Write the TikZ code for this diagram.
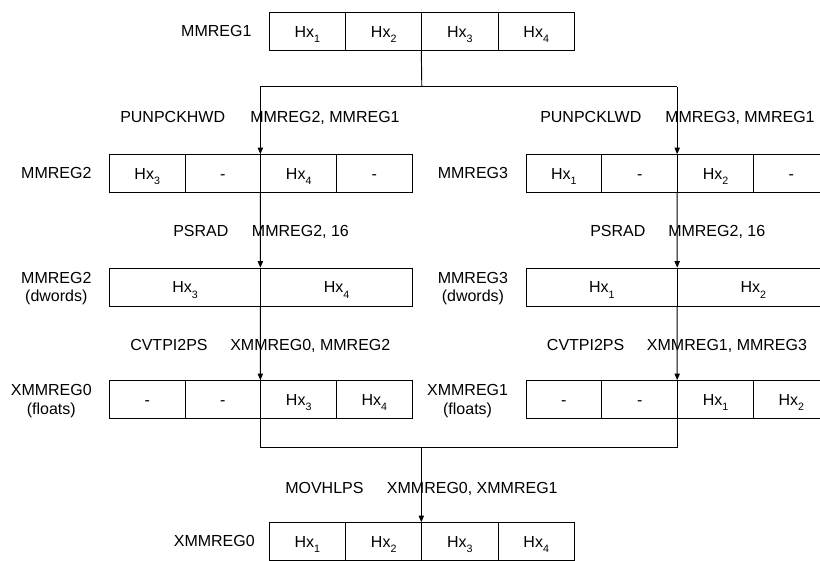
\documentclass[tikz,border=0pt]{standalone}
\usepackage{fontspec}
\setmainfont{Liberation Sans}
\usetikzlibrary{arrows.meta}
\newcommand{\hxs}[1]{Hx\raisebox{-0.65ex}[0pt][0pt]{\fontsize{8}{9}\selectfont #1}}
\begin{document}
\begin{tikzpicture}[x=0.75pt,y=-0.75pt,
  every node/.style={font=\fontsize{12}{13.8}\selectfont, inner sep=0pt},
  cellbase/.style={draw, line width=0.7pt, minimum height=28.5pt, text height=8.6pt, text depth=0pt},
  cell/.style={cellbase, minimum width=56.8pt},
  wcell/.style={cellbase, minimum width=57.2pt},
  dcell/.style={cellbase, minimum width=113.6pt},
  lbl/.style={anchor=base west},
  rlbl/.style={anchor=base east},
  tlbl/.style={anchor=east, align=center},
  conn/.style={line width=0.7pt},
  arr/.style={line width=0.7pt, -{Triangle[length=5pt,width=4pt]}}]
\useasboundingbox (0,0) rectangle (820,560);
\begin{scope}
\clip (0,0) rectangle (820,560);
% MMREG1
\node[wcell] (t1) at (307.4,31.5) {\hxs{1}};
\node[wcell] (t2) at (383.7,31.5) {\hxs{2}};
\node[wcell] (t3) at (459.9,31.5) {\hxs{3}};
\node[wcell] (t4) at (536.2,31.5) {\hxs{4}};
\node[rlbl] (lt) at (251.7,36.5) {MMREG1};
% MMREG2
\node[cell] (a1) at (147.2,173.7) {\hxs{3}};
\node[cell] (a2) at (222.9,173.7) {-};
\node[cell] (a3) at (298.7,173.7) {\hxs{4}};
\node[cell] (a4) at (374.4,173.7) {-};
\node[rlbl] (la) at (91.7,178.7) {MMREG2};
% MMREG3
\node[cell] (b1) at (563.9,173.7) {\hxs{1}};
\node[cell] (b2) at (639.7,173.7) {-};
\node[cell] (b3) at (715.5,173.7) {\hxs{2}};
\node[cell] (b4) at (791.3,173.7) {-};
\node[rlbl] (lb) at (508.3,178.7) {MMREG3};
% dwords
\node[dcell] (c1) at (185.05,287.2) {\hxs{3}};
\node[dcell] (c2) at (336.55,287.2) {\hxs{4}};
\node[tlbl] (lc) at (91.7,288.5) {MMREG2\\(dwords)};
\node[dcell] (d1) at (601.8,287.2) {\hxs{1}};
\node[dcell] (d2) at (753.4,287.2) {\hxs{2}};
\node[tlbl] (ld) at (508.3,288.5) {MMREG3\\(dwords)};
% floats
\node[cell] (e1) at (147.2,399.7) {-};
\node[cell] (e2) at (222.9,399.7) {-};
\node[cell] (e3) at (298.7,399.7) {\hxs{3}};
\node[cell] (e4) at (374.4,399.7) {\hxs{4}};
\node[tlbl] (le) at (92,401) {XMMREG0\\(floats)};
\node[cell] (f1) at (563.9,399.7) {-};
\node[cell] (f2) at (639.7,399.7) {-};
\node[cell] (f3) at (715.5,399.7) {\hxs{1}};
\node[cell] (f4) at (791.3,399.7) {\hxs{2}};
\node[tlbl] (lf) at (508.3,401) {XMMREG1\\(floats)};
% final
\node[wcell] (g1) at (307.4,541.7) {\hxs{1}};
\node[wcell] (g2) at (383.7,541.7) {\hxs{2}};
\node[wcell] (g3) at (459.9,541.7) {\hxs{3}};
\node[wcell] (g4) at (536.2,541.7) {\hxs{4}};
\node[rlbl] (lg) at (255,546.7) {XMMREG0};
% instruction labels
\node[lbl] (i1a) at (120,122.3) {PUNPCKHWD};
\node[lbl] (i1b) at (250,122.3) {MMREG2, MMREG1};
\node[lbl] (i2a) at (540,122.3) {PUNPCKLWD};
\node[lbl] (i2b) at (665,122.3) {MMREG3, MMREG1};
\node[lbl] (i3a) at (173,236.7) {PSRAD};
\node[lbl] (i3b) at (251.7,236.7) {MMREG2, 16};
\node[lbl] (i4a) at (590,236.7) {PSRAD};
\node[lbl] (i4b) at (668,236.7) {MMREG2, 16};
\node[lbl] (i5a) at (130,350) {CVTPI2PS};
\node[lbl] (i5b) at (230,350) {XMMREG0, MMREG2};
\node[lbl] (i6a) at (546.7,350) {CVTPI2PS};
\node[lbl] (i6b) at (646.7,350) {XMMREG1, MMREG3};
\node[lbl] (i7a) at (285,493.3) {MOVHLPS};
\node[lbl] (i7b) at (386.7,493.3) {XMMREG0, XMMREG1};
% connectors
\coordinate (jt) at (421.8,86.7);
\coordinate (jb) at (421.8,447.3);
\coordinate (jl) at (a3.north west |- jt);
\coordinate (jr) at (b3.north west |- jt);
\draw[conn] (t3.south west) -- (jt);
\draw[conn] (jl) -- (jr);
\draw[arr] (jl) -- (a3.north west);
\draw[arr] (jr) -- (b3.north west);
\draw[arr] (a3.south west) -- (c2.north west);
\draw[arr] (b3.south west) -- (d2.north west);
\draw[arr] (c2.south west) -- (e3.north west);
\draw[arr] (d2.south west) -- (f3.north west);
\draw[conn] (e3.south west) -- (e3.south west |- jb) -- (f3.south west |- jb) -- (f3.south west);
\draw[arr] (g3.north west |- jb) -- (g3.north west);
\end{scope}
\end{tikzpicture}
\end{document}
